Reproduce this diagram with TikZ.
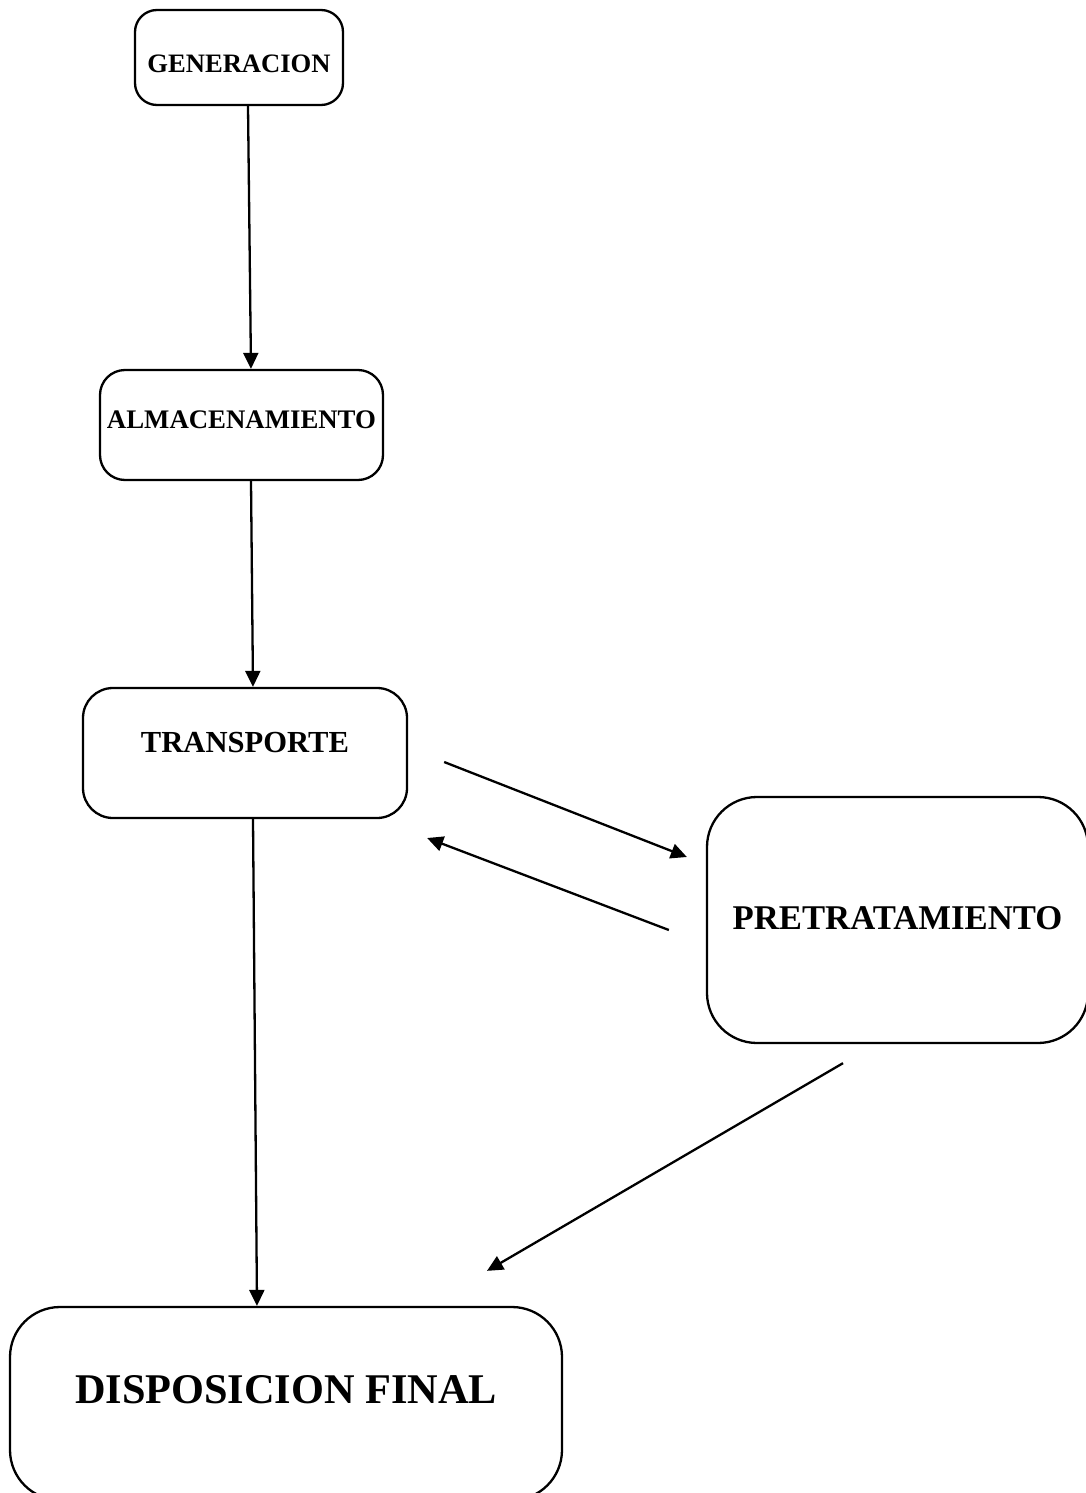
\documentclass[tikz,border=0pt]{standalone}
\usepackage{fontspec}
\setmainfont{Liberation Serif}
\usetikzlibrary{arrows.meta}
\begin{document}
\begin{tikzpicture}[x=1pt,y=-1pt,
  stagebox/.style={draw=black, line width=2.3pt, rectangle, inner sep=0pt},
  lbl/.style={inner sep=0pt, font=\bfseries},
  flow/.style={line width=2.3pt, -{Triangle[length=16pt,width=15pt]}}]
\useasboundingbox (0,0) rectangle (1086,1493);
\fill[white] (0,0) rectangle (1086,1493);
% boxes
\node[stagebox, rounded corners=22pt, minimum width=208pt, minimum height=95pt] (gen) at (239,57.5) {};
\node[stagebox, rounded corners=25pt, minimum width=283pt, minimum height=110pt] (alm) at (241.5,425) {};
\node[stagebox, rounded corners=30pt, minimum width=324pt, minimum height=130pt] (tra) at (245,753) {};
\node[stagebox, rounded corners=50pt, minimum width=381pt, minimum height=246pt] (pre) at (897.5,920) {};
\node[stagebox, rounded corners=50pt, minimum width=552pt, minimum height=193pt] (dis) at (286,1403.5) {};
% texts
\node[lbl, font=\bfseries\fontsize{26.6}{30}\selectfont] (tgen) at ([yshift=-6.5pt]gen.center) {GENERACION};
\node[lbl, font=\bfseries\fontsize{26.8}{30}\selectfont] (talm) at ([yshift=5pt]alm.center) {ALMACENAMIENTO};
\node[lbl, font=\bfseries\fontsize{30.6}{34}\selectfont] (ttra) at ([yshift=10pt]tra.center) {TRANSPORTE};
\node[lbl, font=\bfseries\fontsize{34.7}{38}\selectfont] (tpre) at ([yshift=2pt]pre.center) {PRETRATAMIENTO};
\node[lbl, font=\bfseries\fontsize{42.3}{46}\selectfont] (tdis) at ([yshift=13.5pt]dis.center) {DISPOSICION FINAL};
% connectors
\draw[flow] ([xshift=9pt]gen.south) -- ([xshift=9.5pt]alm.north);
\draw[flow] ([xshift=9.5pt]alm.south) -- ([xshift=8pt]tra.north);
\draw[flow] ([xshift=8pt]tra.south) -- ([xshift=-29pt]dis.north);
\draw[flow] ([shift={(36,9)}]tra.east) -- ([shift={(-19,-63)}]pre.west);
\draw[flow] ([shift={(-37,10)}]pre.west) -- ([shift={(19,85)}]tra.east);
\draw[flow] ([shift={(-54.5,19)}]pre.south) -- ([shift={(201,-35)}]dis.north);
\end{tikzpicture}
\end{document}
